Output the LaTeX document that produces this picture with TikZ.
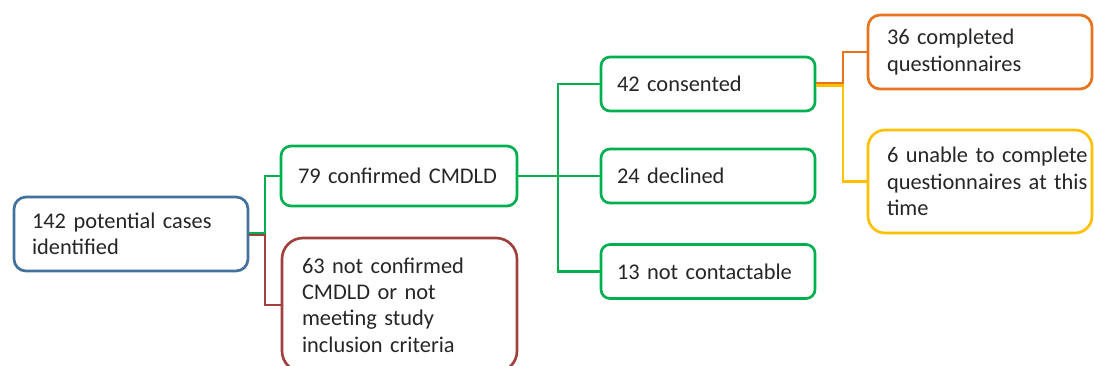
\documentclass[tikz,border=0pt]{standalone}
\usepackage{fontspec}
\setmainfont{Carlito}
\definecolor{cblue}{HTML}{41719C}
\definecolor{cgreen}{HTML}{00B050}
\definecolor{cred}{HTML}{A0413E}
\definecolor{corange}{HTML}{E8731F}
\definecolor{cyellow}{HTML}{FFC000}
\begin{document}
\begin{tikzpicture}[x=0.75pt,y=-0.75pt,
  box/.style={draw=#1, line width=2pt, fill=white, align=left,
    font=\fontsize{16.8}{19.8}\selectfont, text=black!85,
    inner ysep=0pt, anchor=center, rectangle},
  conn/.style={line width=1.7pt}]
\useasboundingbox (0,0) rectangle (1094,365);

\node[box=cblue, minimum width=175.5pt, minimum height=55.5pt,
  inner xsep=13.5pt, text width=148.5pt, rounded corners=9pt]
  (n142) at (131,234) {142 potential cases\\identified};

\node[box=cgreen, minimum width=177pt, minimum height=45pt,
  inner xsep=12.75pt, text width=151.5pt, rounded corners=7.5pt]
  (n79) at (399,176) {79 confirmed CMDLD};

\node[box=cred, minimum width=176.25pt, minimum height=100.5pt,
  inner xsep=15pt, text width=146.25pt, rounded corners=15.75pt]
  (n63) at (399.5,305) {63 not confirmed\\CMDLD or not\\meeting study\\inclusion criteria};

\node[box=cgreen, minimum width=160.5pt, minimum height=40.5pt,
  inner xsep=12pt, text width=136.5pt, rounded corners=6.75pt]
  (n42) at (708,84) {42 consented};

\node[box=cgreen, minimum width=160.5pt, minimum height=40.5pt,
  inner xsep=12pt, text width=136.5pt, rounded corners=6.75pt]
  (n24) at (708,176) {24 declined};

\node[box=cgreen, minimum width=160.5pt, minimum height=40.5pt,
  inner xsep=12pt, text width=136.5pt, rounded corners=6.75pt]
  (n13) at (708,271.5) {13 not contactable};

\node[box=corange, minimum width=168pt, minimum height=55.5pt,
  inner xsep=14.25pt, text width=139.5pt, rounded corners=9pt]
  (n36) at (980,52) {36 completed\\questionnaires};

\node[box=cyellow, minimum width=168pt, minimum height=77.25pt,
  inner xsep=14.25pt, text width=139.5pt, rounded corners=12.75pt]
  (n6) at (980,181.5) {\mbox{6 unable to complete}\\\mbox{questionnaires at this}\\time};

% connectors
\draw[conn, cred] ([yshift=-0.7pt]n142.east) -- ++(16,0) |- (n63.west);
\draw[conn, cgreen] ([yshift=0.7pt]n142.east) -- ++(16,0) |- (n79.west);
\draw[conn, cgreen] (n79.east) -- (n24.west);
\draw[conn, cgreen] (n42.west) -- ++(-42,0) |- (n13.west);
\draw[conn, cyellow] ([yshift=-1.2pt]n42.east) -- ++(27,0) |- (n6.west);
\draw[conn, corange] ([yshift=0.5pt]n42.east) -- ++(27,0) |- (n36.west);
\end{tikzpicture}
\end{document}
